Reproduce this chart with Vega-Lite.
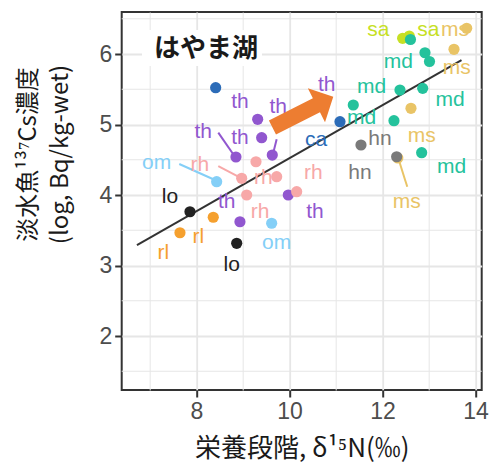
{
  "$schema": "https://vega.github.io/schema/vega-lite/v6.json",
  "width": 360,
  "height": 378,
  "autosize": {"type": "none"},
  "padding": {"left": 121.7, "top": 12, "right": 11.3, "bottom": 78},
  "background": "white",
  "config": {"view": {"stroke": "#333333", "strokeWidth": 2}},
  "datasets": {
    "points": [
      {"sp": "ms", "x": 12.33, "y": 4.525},
      {"sp": "ca", "x": 8.413, "y": 5.522},
      {"sp": "ca", "x": 11.086, "y": 5.04},
      {"sp": "th", "x": 9.316, "y": 5.074},
      {"sp": "th", "x": 9.402, "y": 4.813},
      {"sp": "th", "x": 8.849, "y": 4.539},
      {"sp": "th", "x": 9.63, "y": 4.567},
      {"sp": "th", "x": 8.935, "y": 3.621},
      {"sp": "th", "x": 9.974, "y": 4.0},
      {"sp": "rh", "x": 9.28, "y": 4.472},
      {"sp": "rh", "x": 8.972, "y": 4.237},
      {"sp": "rh", "x": 9.725, "y": 4.26},
      {"sp": "rh", "x": 9.08, "y": 4.0},
      {"sp": "rh", "x": 10.155, "y": 4.047},
      {"sp": "om", "x": 8.434, "y": 4.189},
      {"sp": "om", "x": 9.617, "y": 3.599},
      {"sp": "lo", "x": 7.86, "y": 3.763},
      {"sp": "lo", "x": 8.865, "y": 3.315},
      {"sp": "rl", "x": 8.361, "y": 3.684},
      {"sp": "rl", "x": 7.645, "y": 3.465},
      {"sp": "hn", "x": 11.538, "y": 4.709},
      {"sp": "hn", "x": 12.305, "y": 4.543},
      {"sp": "ms", "x": 12.613, "y": 5.23},
      {"sp": "ms", "x": 13.538, "y": 6.067},
      {"sp": "ms", "x": 13.811, "y": 6.365},
      {"sp": "sa", "x": 12.434, "y": 6.223},
      {"sp": "sa", "x": 12.576, "y": 6.255},
      {"sp": "md", "x": 12.602, "y": 6.206},
      {"sp": "md", "x": 12.914, "y": 6.018},
      {"sp": "md", "x": 13.011, "y": 5.894},
      {"sp": "md", "x": 12.376, "y": 5.489},
      {"sp": "md", "x": 12.865, "y": 5.513},
      {"sp": "md", "x": 11.372, "y": 5.277},
      {"sp": "md", "x": 12.247, "y": 5.054},
      {"sp": "md", "x": 12.843, "y": 4.6}
    ],
    "labels": [
      {"sp": "th", "lx": 8.935, "ly": 5.323},
      {"sp": "th", "lx": 9.759, "ly": 5.252, "sx": 9.725, "sy": 4.79, "ex": 9.639, "ey": 4.567},
      {"sp": "th", "lx": 8.146, "ly": 4.898, "sx": 8.469, "sy": 4.884, "ex": 8.828, "ey": 4.543},
      {"sp": "th", "lx": 8.935, "ly": 4.804},
      {"sp": "th", "lx": 8.649, "ly": 3.905},
      {"sp": "th", "lx": 10.548, "ly": 3.763},
      {"sp": "th", "lx": 10.8, "ly": 5.56},
      {"sp": "rh", "lx": 8.075, "ly": 4.426, "sx": 8.469, "sy": 4.411, "ex": 8.972, "ey": 4.237},
      {"sp": "rh", "lx": 9.437, "ly": 4.237},
      {"sp": "rh", "lx": 10.512, "ly": 4.308},
      {"sp": "rh", "lx": 9.366, "ly": 3.763},
      {"sp": "om", "lx": 7.144, "ly": 4.45, "sx": 7.63, "sy": 4.44, "ex": 8.398, "ey": 4.213},
      {"sp": "om", "lx": 9.725, "ly": 3.323},
      {"sp": "lo", "lx": 7.43, "ly": 3.967},
      {"sp": "lo", "lx": 8.757, "ly": 3.007},
      {"sp": "rl", "lx": 8.039, "ly": 3.4},
      {"sp": "rl", "lx": 7.286, "ly": 3.173},
      {"sp": "ca", "lx": 10.57, "ly": 4.78},
      {"sp": "hn", "lx": 11.946, "ly": 4.79},
      {"sp": "hn", "lx": 11.516, "ly": 4.308},
      {"sp": "ms", "lx": 12.843, "ly": 4.837},
      {"sp": "ms", "lx": 12.52, "ly": 3.905, "sx": 12.533, "sy": 4.118, "ex": 12.34, "ey": 4.521},
      {"sp": "ms", "lx": 13.596, "ly": 5.797},
      {"sp": "ms", "lx": 13.559, "ly": 6.34},
      {"sp": "sa", "lx": 11.91, "ly": 6.34},
      {"sp": "sa", "lx": 12.985, "ly": 6.34},
      {"sp": "md", "lx": 12.34, "ly": 5.891},
      {"sp": "md", "lx": 11.768, "ly": 5.528},
      {"sp": "md", "lx": 13.452, "ly": 5.348},
      {"sp": "md", "lx": 11.553, "ly": 5.088},
      {"sp": "md", "lx": 13.488, "ly": 4.401}
    ],
    "fit": [
      {"x": 6.72, "y": 3.29},
      {"x": 13.7, "y": 5.915}
    ],
    "minor_y": [
      {"y": 1.5}, {"y": 2.5}, {"y": 3.5}, {"y": 4.5}, {"y": 5.5}, {"y": 6.5}
    ],
    "box": [
      {"x1": 6.828, "x2": 9.409, "y1": 5.83, "y2": 6.34, "tx": 8.204, "ty": 6.071, "name": "はやま湖"}
    ],
    "arrow": [
      {"x": 10.288, "y": 5.176}
    ]
  },
  "layer": [
    {
      "data": {"name": "minor_y"},
      "mark": {"type": "rule", "color": "#E6E6E6", "strokeWidth": 1},
      "encoding": {
        "y": {
          "field": "y", "type": "quantitative",
          "scale": {"domain": [1.234, 6.596], "nice": false, "zero": false},
          "axis": {
            "values": [2, 3, 4, 5, 6],
            "format": ".0f",
            "labelOverlap": false,
            "grid": true,
            "gridColor": "#E6E6E6",
            "gridWidth": 1.8,
            "tickColor": "#333333",
            "tickWidth": 2,
            "tickSize": 7,
            "domain": false,
            "labelFontSize": 23,
            "labelColor": "#4D4D4D",
            "labelFont": "Liberation Sans",
            "labelPadding": 3,
            "title": ["淡水魚¹³⁷Cs濃度", "(log, Bq/kg-wet)"],
            "titleFont": "Noto Sans CJK JP",
            "titleFontSize": 24,
            "titleFontWeight": "normal",
            "titleColor": "#1a1a1a",
            "titleAngle": 270,
            "titleAlign": "center",
            "titleBaseline": "top",
            "titleLineHeight": 32,
            "titleX": -105,
            "titleY": 142
          }
        }
      }
    },
    {
      "data": {"name": "box"},
      "mark": {"type": "rect", "fill": "white"},
      "encoding": {
        "x": {
          "field": "x1", "type": "quantitative",
          "scale": {"domain": [6.392, 14.134], "nice": false, "zero": false},
          "axis": {
            "values": [7, 8, 9, 10, 11, 12, 13, 14],
            "labelExpr": "datum.value % 2 == 0 ? datum.label : ''",
            "labelOverlap": false,
            "grid": true,
            "gridColor": "#E6E6E6",
            "gridWidth": {"condition": {"test": "datum.value % 2 == 0", "value": 1.8}, "value": 1},
            "tickColor": {"condition": {"test": "datum.value % 2 == 0", "value": "#333333"}, "value": "rgba(0,0,0,0)"},
            "tickWidth": 2,
            "tickSize": 7,
            "domain": false,
            "labelFontSize": 23,
            "labelColor": "#4D4D4D",
            "labelFont": "Liberation Sans",
            "labelPadding": 3,
            "title": "栄養段階, δ¹⁵N(‰)",
            "titleFont": "Noto Sans CJK JP",
            "titleFontSize": 26,
            "titleFontWeight": "normal",
            "titleColor": "#1a1a1a",
            "titlePadding": 12
          }
        },
        "x2": {"field": "x2"},
        "y": {"field": "y1", "type": "quantitative"},
        "y2": {"field": "y2"}
      }
    },
    {
      "data": {"name": "fit"},
      "mark": {"type": "line", "color": "#333333", "strokeWidth": 2},
      "encoding": {
        "x": {"field": "x", "type": "quantitative"},
        "y": {"field": "y", "type": "quantitative"}
      }
    },
    {
      "data": {"name": "labels"},
      "transform": [{"filter": "isValid(datum.sx)"}],
      "mark": {"type": "rule", "strokeWidth": 2},
      "encoding": {
        "x": {"field": "sx", "type": "quantitative"},
        "y": {"field": "sy", "type": "quantitative"},
        "x2": {"field": "ex"},
        "y2": {"field": "ey"},
        "color": {"field": "sp", "type": "nominal", "legend": null,
          "scale": {
            "domain": ["th", "rh", "om", "lo", "rl", "ca", "hn", "ms", "sa", "md"],
            "range": ["#9157CF", "#F7A8A8", "#84CFF7", "#222222", "#F5A02E", "#2C6CB8", "#7A7A7A", "#E9C466", "#C6E024", "#24C29C"]
          }}
      }
    },
    {
      "data": {"name": "points"},
      "mark": {"type": "circle", "size": 125, "opacity": 1},
      "encoding": {
        "x": {"field": "x", "type": "quantitative"},
        "y": {"field": "y", "type": "quantitative"},
        "color": {"field": "sp", "type": "nominal", "legend": null}
      }
    },
    {
      "data": {"name": "labels"},
      "mark": {"type": "text", "font": "Liberation Sans", "fontSize": 21, "align": "center", "baseline": "middle"},
      "encoding": {
        "x": {"field": "lx", "type": "quantitative"},
        "y": {"field": "ly", "type": "quantitative"},
        "text": {"field": "sp"},
        "color": {"field": "sp", "type": "nominal", "legend": null}
      }
    },
    {
      "data": {"name": "arrow"},
      "mark": {
        "type": "point",
        "filled": true,
        "fill": "#ED7D31",
        "opacity": 1,
        "strokeWidth": 0,
        "shape": "M -1 -0.23 L 0.446 -0.23 L 0.446 -0.557 L 1 0 L 0.446 0.557 L 0.446 0.23 L -1 0.23 Z",
        "size": 4651,
        "angle": 333.1
      },
      "encoding": {
        "x": {"field": "x", "type": "quantitative"},
        "y": {"field": "y", "type": "quantitative"}
      }
    },
    {
      "data": {"name": "box"},
      "mark": {"type": "text", "font": "Noto Sans CJK JP", "fontSize": 26, "fontWeight": "bold", "color": "#1a1a1a", "align": "center", "baseline": "middle"},
      "encoding": {
        "x": {"field": "tx", "type": "quantitative"},
        "y": {"field": "ty", "type": "quantitative"},
        "text": {"field": "name"}
      }
    }
  ]
}
